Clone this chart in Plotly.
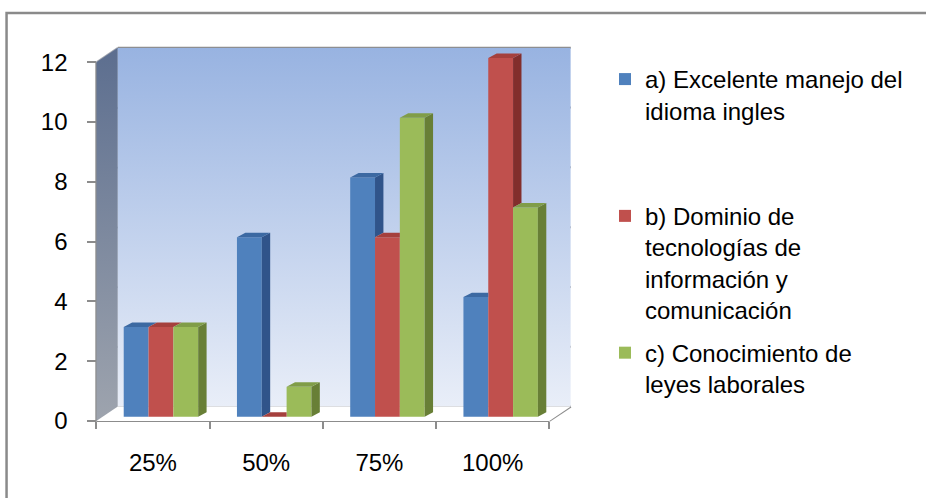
import base64
import plotly.graph_objects as go

# ---- data ----
categories = ["25%", "50%", "75%", "100%"]
serie_a = [3, 6, 8, 4]     # a) Excelente manejo del idioma ingles
serie_b = [3, 0, 6, 12]    # b) Dominio de tecnologías de información y comunicación
serie_c = [3, 1, 10, 7]    # c) Conocimiento de leyes laborales
series_names = [
    "a) Excelente manejo del<br>idioma ingles<br> <br> ",
    "b) Dominio de<br>tecnologías de<br>información y<br>comunicación",
    "c) Conocimiento de<br>leyes laborales",
]
y_ticks = [0, 2, 4, 6, 8, 10, 12]

values = [serie_a, serie_b, serie_c]
front_cols = ["#4F81BD", "#C0504D", "#9BBB59"]
side_cols = ["#30548A", "#822E2C", "#687F36"]
top_cols = ["#3C69A2", "#A5403D", "#809D48"]

# ---- pseudo-3D geometry (in axis units) ----
PXX, PXY = 113.15, 29.94          # pixels per x unit / per y unit
DXW, DYW = 21.5 / PXX, 14.5 / PXY  # wall depth
FX, FY = 8.0 / PXX, 4.3 / PXY      # front face of the bars sits this deep
BX, BY = 8.4 / PXX, 4.5 / PXY      # bar depth
BW = 24.8 / PXX                    # bar width
NCAT = len(categories)
X0, X1 = -0.5, NCAT - 0.5
YTOP = max(y_ticks)

XMIN, YMIN = -0.6, -0.3
L_PX, R_PX, T_PX = 96.7 - 0.1 * PXX, 577.0, 40.0
B_PX = 421.5 + 0.3 * PXY
W_PX, H_PX = R_PX - L_PX, B_PX - T_PX
XMAX = XMIN + W_PX / PXX
YMAX = YMIN + H_PX / PXY

FONT_SIZE = 24


def paper_x(px):
    return (px - L_PX) / W_PX


def paper_y(py):
    return (B_PX - py) / H_PX


fig = go.Figure()

# front faces of the bars
for i, vals in enumerate(values):
    fig.add_trace(go.Bar(
        x=list(range(NCAT)), y=vals, base=FY, width=BW,
        offset=FX + (i - 1.5) * BW,
        marker=dict(color=front_cols[i], line=dict(width=0)),
        name=series_names[i], legendgroup=str(i), hoverinfo="skip",
    ))

# side and top faces
for i, vals in enumerate(values):
    sx, sy, tx, ty = [], [], [], []
    for g, v in enumerate(vals):
        xl = g + FX + (i - 1.5) * BW
        xr = xl + BW
        top = FY + v
        nxt = values[i + 1][g] if i + 1 < len(values) else None
        low = FY + (max(0, nxt) if nxt is not None else 0)
        if top > low:
            sx += [xr, xr + BX, xr + BX, xr, xr, None]
            sy += [low, low + BY, top + BY, top, low, None]
        if nxt is not None and nxt > v:
            tx += [xl, xr, xr, xl + BX, xl, None]
        else:
            tx += [xl, xr, xr + BX, xl + BX, xl, None]
        ty += [top, top, top + BY, top + BY, top, None]
    fig.add_trace(go.Scatter(x=sx, y=sy, mode="lines", fill="toself",
                             fillcolor=side_cols[i], line=dict(width=0, color=side_cols[i]),
                             showlegend=False, hoverinfo="skip", legendgroup=str(i)))
    fig.add_trace(go.Scatter(x=tx, y=ty, mode="lines", fill="toself",
                             fillcolor=top_cols[i], line=dict(width=0, color=top_cols[i]),
                             showlegend=False, hoverinfo="skip", legendgroup=str(i)))

# ---- walls and floor as a gradient image ----
ix0, ix1 = X0, X1 + DXW
iy0, iy1 = 0.0, YTOP + DYW


def sv(x, y):
    return "%.2f,%.2f" % ((x - ix0) / (ix1 - ix0) * 1000, (iy1 - y) / (iy1 - iy0) * 1000)


left_wall = " ".join([sv(X0, 0), sv(X0, YTOP), sv(X0 + DXW, YTOP + DYW), sv(X0 + DXW, DYW)])
back_wall = " ".join([sv(X0 + DXW, DYW), sv(X0 + DXW, YTOP + DYW), sv(X1 + DXW, YTOP + DYW), sv(X1 + DXW, DYW)])
floor = " ".join([sv(X0, 0), sv(X1, 0), sv(X1 + DXW, DYW), sv(X0 + DXW, DYW)])
svg = (
    '<svg xmlns="http://www.w3.org/2000/svg" width="1000" height="1000" '
    'viewBox="0 0 1000 1000" preserveAspectRatio="none">'
    '<defs>'
    '<linearGradient id="gb" x1="0" y1="0" x2="0" y2="1">'
    '<stop offset="0" stop-color="#98B3E1"/><stop offset="1" stop-color="#E9EEF8"/></linearGradient>'
    '<linearGradient id="gl" x1="0" y1="0" x2="0" y2="1">'
    '<stop offset="0" stop-color="#5C6E8F"/><stop offset="1" stop-color="#9EA4AE"/></linearGradient>'
    '</defs>'
    '<polygon points="%s" fill="url(#gl)"/>'
    '<polygon points="%s" fill="url(#gb)"/>'
    '<polygon points="%s" fill="#FFFFFF"/>'
    '</svg>' % (left_wall, back_wall, floor)
)
img_src = "data:image/svg+xml;base64," + base64.b64encode(svg.encode()).decode()

shapes = []
grid_col = "#8C8C8C"
for v in y_ticks:
    shapes.append(dict(type="line", xref="x", yref="y", layer="below",
                       x0=X0 + DXW, x1=X1 + DXW, y0=v + DYW, y1=v + DYW,
                       line=dict(color=grid_col, width=2)))
    shapes.append(dict(type="line", xref="x", yref="y", layer="below",
                       x0=X0, x1=X0 + DXW, y0=v, y1=v + DYW,
                       line=dict(color="#A4A8B0", width=1.5)))
# wall front edge, floor edges
shapes.append(dict(type="line", xref="x", yref="y", layer="below",
                   x0=X0, x1=X0, y0=0, y1=YTOP, line=dict(color=grid_col, width=2)))
shapes.append(dict(type="line", xref="x", yref="y", layer="below",
                   x0=X0, x1=X1, y0=0, y1=0, line=dict(color=grid_col, width=2)))
shapes.append(dict(type="line", xref="x", yref="y", layer="below",
                   x0=X1, x1=X1 + DXW, y0=0, y1=DYW, line=dict(color=grid_col, width=2)))
# chart frame
shapes.append(dict(type="rect", xref="paper", yref="paper", layer="above",
                   x0=paper_x(7), x1=paper_x(1100), y0=paper_y(700), y1=paper_y(13),
                   line=dict(color="#8A8A8A", width=2.5), fillcolor="rgba(0,0,0,0)"))

fig.update_layout(
    width=926, height=498,
    margin=dict(l=L_PX, r=926 - R_PX, t=T_PX, b=498 - B_PX, autoexpand=False),
    paper_bgcolor="white", plot_bgcolor="rgba(0,0,0,0)",
    barmode="overlay",
    font=dict(family="Liberation Sans, Arial, sans-serif", size=FONT_SIZE, color="#000000"),
    xaxis=dict(range=[XMIN, XMAX], tickmode="array", tickvals=list(range(NCAT)),
               ticktext=categories, ticks="", showgrid=False, zeroline=False,
               showline=False, anchor="free", position=paper_y(421.5),
               ticklabelstandoff=25,
               minor=dict(tickmode="array", tickvals=[k - 0.5 for k in range(NCAT + 1)],
                          ticks="outside", ticklen=7, tickwidth=2, tickcolor=grid_col,
                          showgrid=False)),
    yaxis=dict(range=[YMIN, YMAX], tickmode="array", tickvals=y_ticks,
               ticks="outside", ticklen=9, tickwidth=2, tickcolor=grid_col,
               showgrid=False, zeroline=False, showline=False,
               anchor="free", position=paper_x(96.7), ticklabelstandoff=15),
    legend=dict(x=paper_x(605), y=paper_y(57), xanchor="left", yanchor="top",
                valign="top", tracegroupgap=9, bgcolor="rgba(0,0,0,0)",
                font=dict(size=FONT_SIZE, color="#000000")),
    images=[dict(source=img_src, xref="x", yref="y", x=ix0, y=iy1,
                 sizex=ix1 - ix0, sizey=iy1 - iy0, sizing="stretch", layer="below")],
    shapes=shapes,
)

fig.write_html("out.html")
